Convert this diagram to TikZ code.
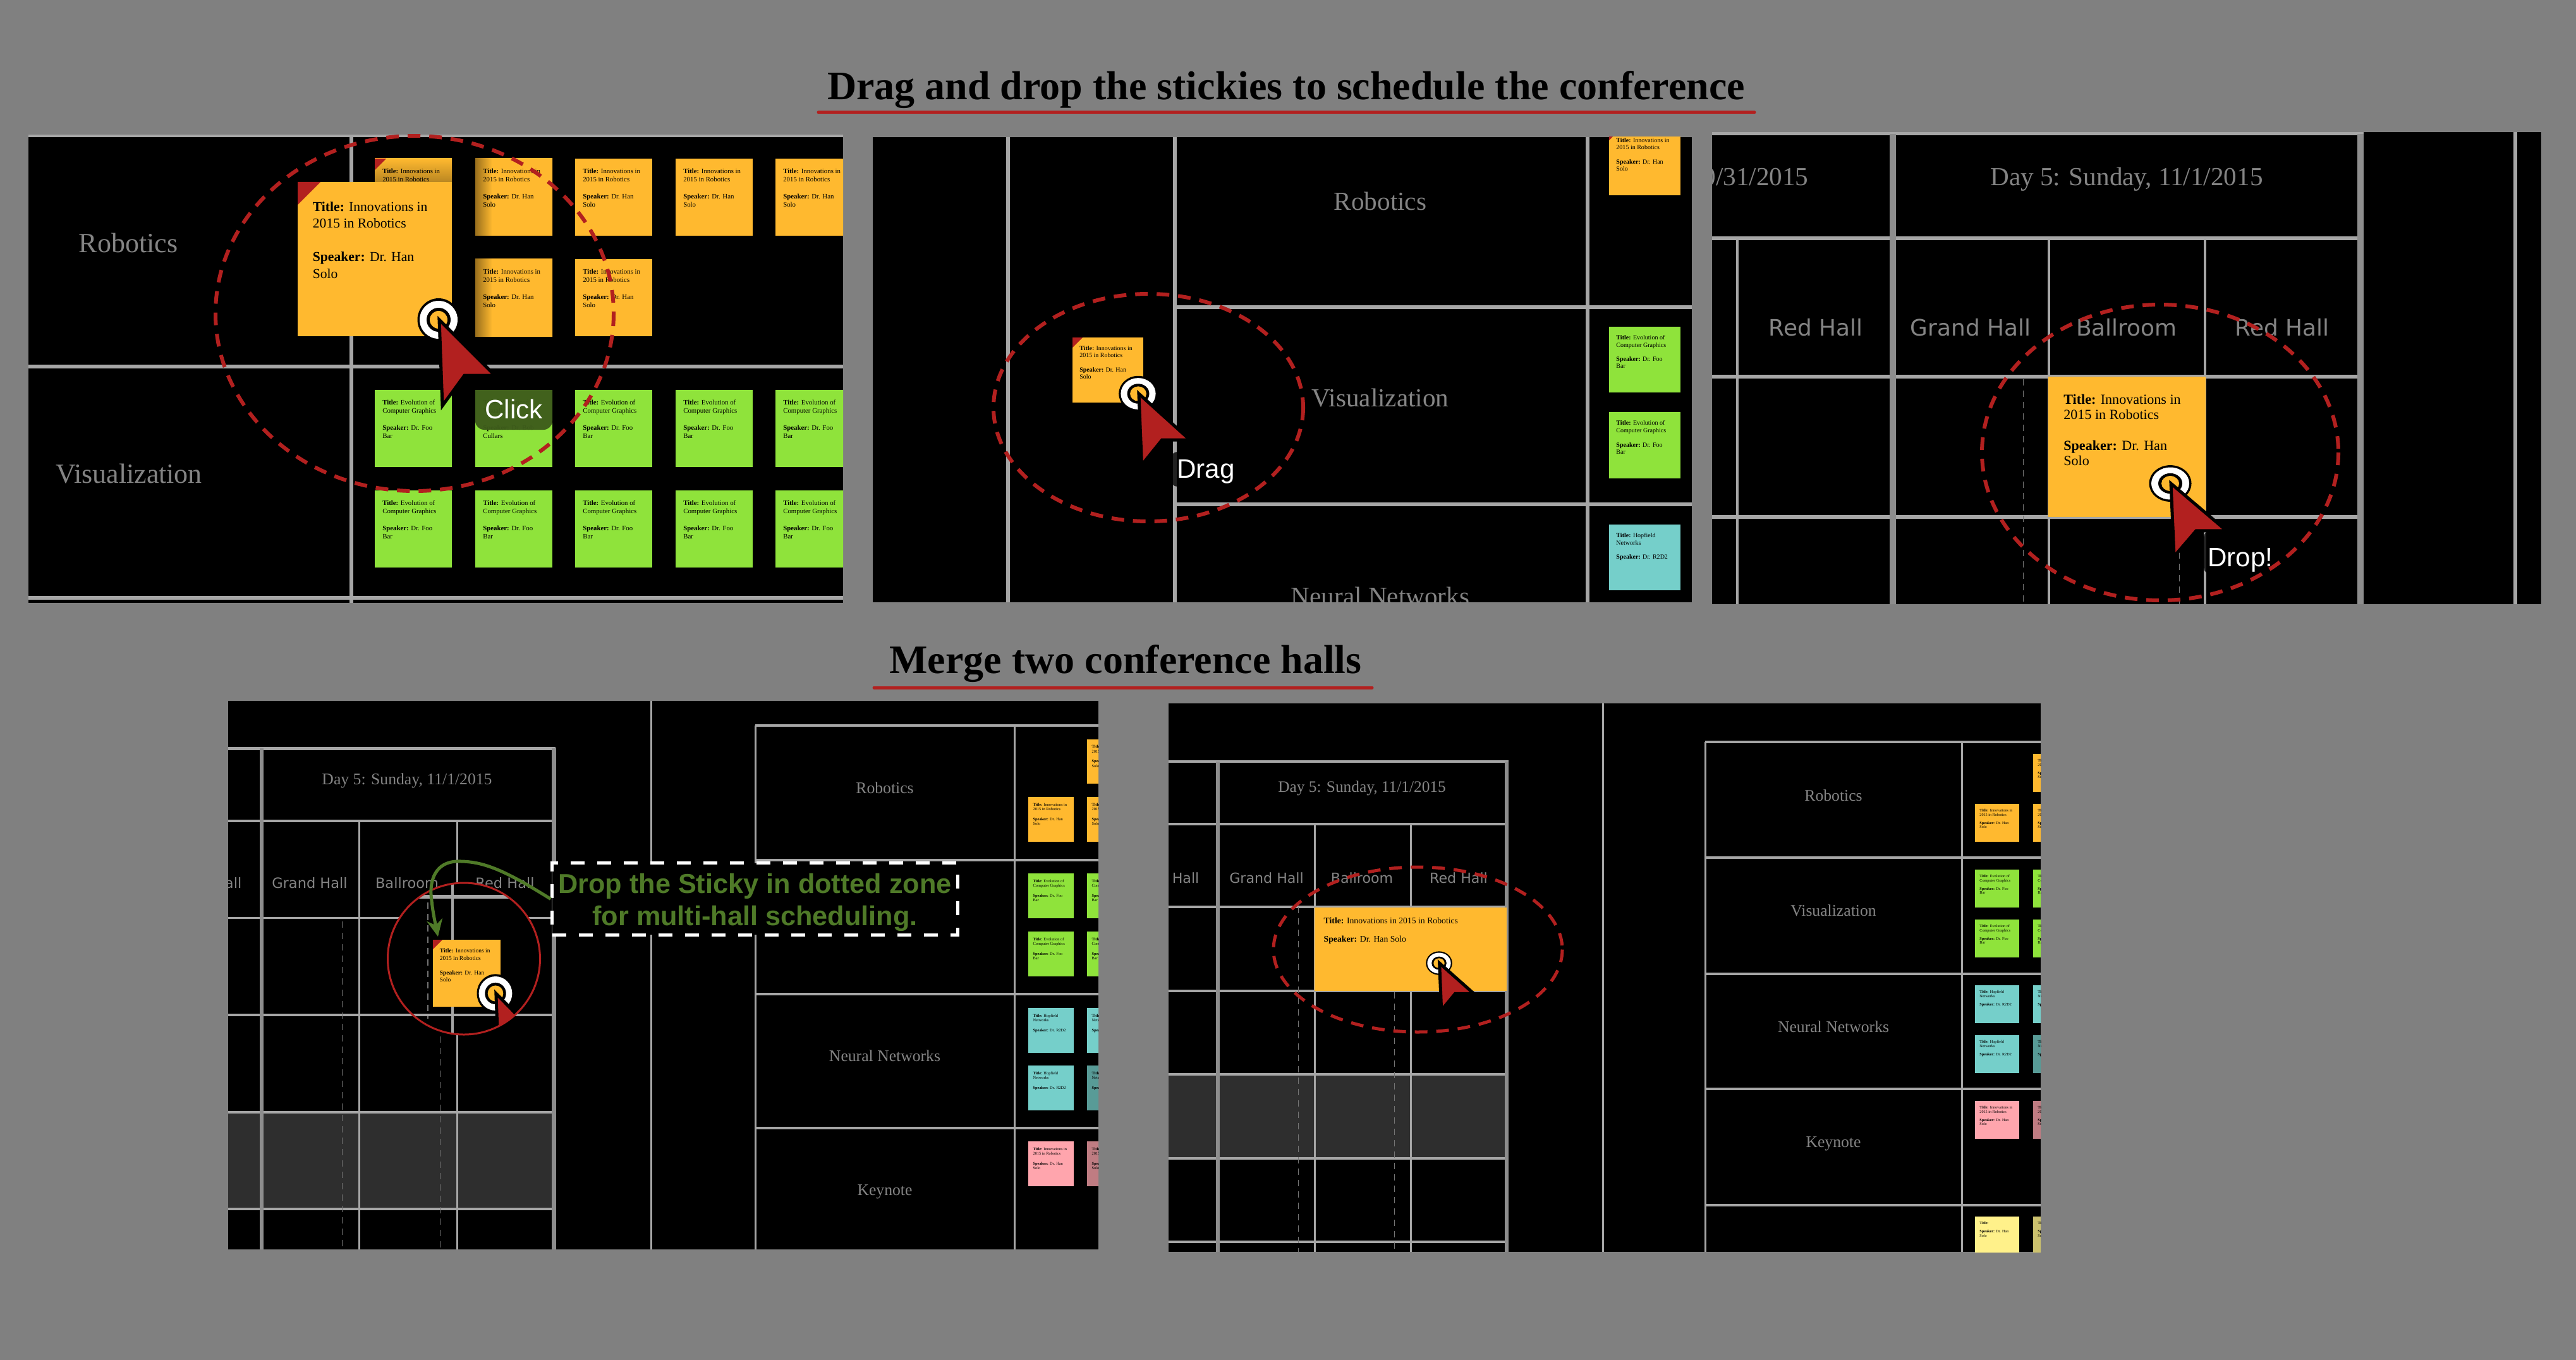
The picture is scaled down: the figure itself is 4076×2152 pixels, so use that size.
\documentclass[tikz,border=0pt]{standalone}
\usepackage{fontspec}
\setmainfont{Liberation Serif}
\newfontfamily\hallfont{DejaVu Sans}
\newfontfamily\tagfont{Liberation Sans}
\usetikzlibrary{arrows.meta}

\definecolor{pagegray}{HTML}{808080}
\definecolor{rulegray}{HTML}{A6A6A6}
\definecolor{labelgray}{HTML}{848484}
\definecolor{hintred}{HTML}{B2201F}
\definecolor{notegreen}{HTML}{4F7A28}
\definecolor{tagshade}{HTML}{3E5C1B}
\definecolor{bandgray}{HTML}{2E2E2E}
\definecolor{stickyorange}{HTML}{FFB92F}
\definecolor{stickygreen}{HTML}{8FE33B}
\definecolor{stickyteal}{HTML}{75CFCA}
\definecolor{stickypink}{HTML}{FFA5AD}
\definecolor{stickyyellow}{HTML}{FFF18A}
\pgfdeclarehorizontalshading{stickyfade}{100bp}{color(0bp)=(stickyorange!60!black); color(25bp)=(stickyorange!60!black); color(36bp)=(stickyorange); color(100bp)=(stickyorange)}

\newcommand{\innotext}{\textbf{Title:} Innovations in\\2015 in Robotics\\[\baselineskip]\textbf{Speaker:} Dr. Han\\Solo}
\newcommand{\evoltext}{\textbf{Title:} Evolution of\\Computer Graphics\\[\baselineskip]\textbf{Speaker:} Dr. Foo\\Bar}
\newcommand{\advtext}{\textbf{Title:} Advanced\\Visualization\\[\baselineskip]\textbf{Speaker:} Dr. Bob\\Cullars}
\newcommand{\hopftext}{\textbf{Title:} Hopfield\\Networks\\[\baselineskip]\textbf{Speaker:} Dr. R2D2}
\newcommand{\plaintext}{\textbf{Title:}\\[\baselineskip]\textbf{Speaker:} Dr. Han\\Solo}

% name, x, y, width, height, look, text
\newcommand{\sticky}[7]{%
  \pgfmathsetmacro{\stickyfs}{0.0252*#4}
  \pgfmathsetmacro{\stickyls}{0.0309*#5}
  \pgfmathsetmacro{\stickypadx}{0.095*#4}
  \pgfmathsetmacro{\stickypady}{0.125*#5}
  \node[stickybox, #6, minimum width=#4*0.01cm, minimum height=#5*0.01cm] (#1) at (#2,#3) {};
  \path (#1.north west) ++(\stickypadx,\stickypady) node[stickytext, font=\fontsize{\stickyfs}{\stickyls}\selectfont] (#1text) {#7};
}
% sticky name, size of the corner
\newcommand{\foldmark}[2]{\fill[hintred] (#1.north west) -- ++(#2,0) -- ++(-#2,#2) -- cycle;}
% x, y, scale x, scale y, colour of the centre
\newcommand{\pointer}[5]{%
  \begin{scope}[shift={(#1,#2)}, xscale=#3, yscale=#4]
    \fill[black] (0,0) ellipse [x radius=33.5, y radius=34];
    \fill[white] (0,0) ellipse [x radius=30, y radius=30];
    \fill[black] (0,0) ellipse [x radius=19, y radius=19];
    \fill[#5] (0,0) ellipse [x radius=14, y radius=14];
    \draw[draw=black, fill=hintred, line width=0.05cm] (1,0) -- (89,88) -- (41,88) -- (6,136) -- cycle;
  \end{scope}}

\begin{document}
\begin{tikzpicture}[
  x=0.01cm, y=-0.01cm,
  screen/.style={fill=black},
  rule/.style={draw=rulegray, line width=0.06cm},
  thinrule/.style={draw=rulegray, line width=0.03cm},
  thickrule/.style={draw=rulegray!85!black, line width=0.1cm},
  slot/.style={draw=rulegray!70!black, dash pattern=on 0.1cm off 0.08cm, line width=0.01cm},
  stickybox/.style={rectangle, anchor=north west, inner sep=0pt, outer sep=0pt},
  stickytext/.style={anchor=north west, align=left, inner sep=0pt, text=black},
  hintring/.style={draw=hintred, line width=0.06cm, dash pattern=on 0.2cm off 0.14cm},
  headline/.style={font=\bfseries\fontsize{18.2}{18.2}\selectfont, inner sep=0pt, text=black},
  headrule/.style={draw=hintred, line width=0.05cm, line cap=round},
  tracklabel/.style={text=labelgray, inner sep=0pt, font=\fontsize{#1}{#1}\selectfont},
  halllabel/.style={text=labelgray, inner sep=0pt, font=\hallfont\fontsize{#1}{#1}\selectfont},
  steptag/.style={text=white, inner sep=0pt, font=\tagfont\fontsize{12}{12}\selectfont},
  dropnote/.style={fill=black, draw=white, line width=0.05cm, dash pattern=on 0.22cm off 0.2cm,
    minimum width=6.41cm, minimum height=1.13cm, inner sep=0pt},
  notetext/.style={inner sep=0pt, align=center, text=notegreen,
    font=\tagfont\bfseries\fontsize{12.3}{14.5}\selectfont},
  notearrow/.style={draw=notegreen, line width=0.05cm, -{Stealth[length=0.27cm, width=0.25cm]}}
]
  \useasboundingbox (0,0) rectangle (4076,2152);
  \fill[pagegray] (0,0) rectangle (4076,2152);

  % Headings.
  \node[headline] (dragtitle) at (2035,142) {Drag and drop the stickies to schedule the conference};
  \coordinate (dragrulea) at (1295,178);
  \coordinate (dragruleb) at (2776,178);
  \draw[headrule] (dragrulea) -- (dragruleb);
  \node[headline] (mergetitle) at (1781,1050) {Merge two conference halls};
  \coordinate (mergerulea) at (1383,1088);
  \coordinate (mergeruleb) at (2171,1088);
  \draw[headrule] (mergerulea) -- (mergeruleb);

  % Click.
  \begin{scope}
    \clip (45,213) rectangle (1334,954);
    \fill[screen] (45,213) rectangle (1334,954);
    \draw[rule, line width=0.04cm] (45,215) -- (1334,215);
    \draw[rule] (556,213) -- (556,954);
    \draw[rule] (45,580) -- (1334,580);
    \draw[rule] (45,946) -- (1334,946);
    \node[tracklabel=12.5] (clickrob) at (203,384) {Robotics};
    \node[tracklabel=12.5] (clickvis) at (204,750) {Visualization};
    \sticky{cka}{593}{251}{122}{122}{top color=stickyorange, bottom color=stickyorange!55!black, middle color=stickyorange!55!black}{\innotext}
    \foldmark{cka}{18}
    \sticky{ckb}{752}{251}{122}{122}{shading=stickyfade}{\innotext}
    \sticky{ckc}{752}{410}{122}{122}{shading=stickyfade}{\innotext}
    \foreach \x/\i in {910/d,1069/e,1227/f}{
      \sticky{ck\i}{\x}{251}{122}{122}{fill=stickyorange}{\innotext}
    }
    \sticky{ckg}{910}{410}{122}{122}{fill=stickyorange}{\innotext}
    \foreach \x/\i in {593/a,910/c,1069/d,1227/e}{
      \sticky{ckv\i}{\x}{617}{122}{122}{fill=stickygreen}{\evoltext}
    }
    \sticky{ckvb}{752}{617}{122}{122}{fill=stickygreen}{\advtext}
    \foreach \x/\i in {593/a,752/b,910/c,1069/d,1227/e}{
      \sticky{ckw\i}{\x}{776}{122}{122}{fill=stickygreen}{\evoltext}
    }
    \fill[tagshade, opacity=0.96] (752,617) -- (874,617) [rounded corners=0.14cm] -- (874,680) -- (752,680) [sharp corners] -- cycle;
    \node[steptag] (clicktag) at (813,647) {Click};
    \sticky{ckbig}{471}{288}{244}{244}{fill=stickyorange}{\innotext}
    \foldmark{ckbig}{36}
    \draw[hintring] (656,496) ellipse [x radius=315, y radius=281];
    \pointer{694}{506}{1}{1}{stickyorange}
  \end{scope}

  % Drag.
  \begin{scope}
    \clip (1381,217) rectangle (2677,953);
    \fill[screen] (1381,217) rectangle (2677,953);
    \foreach \x in {1595,1858.5,2512}{
      \draw[rule] (\x,217) -- (\x,953);
    }
    \draw[rule] (1858,486) -- (2677,486);
    \draw[rule] (1858,798) -- (2677,798);
    \node[tracklabel=11.7] (dragrob) at (2184,318) {Robotics};
    \node[tracklabel=11.7] (dragvis) at (2184,630) {Visualization};
    \node[tracklabel=11.7] (dragneu) at (2184,943) {Neural Networks};
    \sticky{dga}{2546}{205}{113}{104}{fill=stickyorange}{\innotext}
    \foldmark{dga}{17}
    \sticky{dgb}{2546}{517}{113}{104}{fill=stickygreen}{\evoltext}
    \sticky{dgc}{2546}{652}{113}{105}{fill=stickygreen}{\evoltext}
    \sticky{dgd}{2546}{830}{113}{104}{fill=stickyteal}{\hopftext}
    \fill[black, opacity=0.8, rounded corners=0.1cm] (1853,715) rectangle (1975,770);
    \node[steptag] (dragtag) at (1908,746) {Drag};
    \sticky{dgmove}{1697}{534}{112}{103}{fill=stickyorange}{\innotext}
    \foldmark{dgmove}{16}
    \draw[hintring] (1817,645) ellipse [x radius=245, y radius=180];
    \pointer{1801}{623}{0.92}{0.83}{stickyorange}
  \end{scope}

  % Drop.
  \begin{scope}
    \clip (2709,209) rectangle (4021,956);
    \fill[screen] (2709,209) rectangle (4021,956);
    \draw[rule, line width=0.05cm] (2709,212) -- (3740,212);
    \foreach \y in {377,596,818}{
      \draw[rule] (2709,\y) -- (3740,\y);
    }
    \foreach \x in {2749,3242,3489}{
      \draw[rule, line width=0.045cm] (\x,377) -- (\x,956);
    }
    \draw[thickrule] (2995,212) -- (2995,956);
    \draw[thickrule] (3735,212) -- (3735,956);
    \draw[rule] (3980,209) -- (3980,956);
    \draw[slot] (3201,600) -- (3201,956);
    \draw[slot] (3448,820) -- (3448,956);
    \node[tracklabel=11.7, anchor=east] (dropsat) at (2862,284) {Day 4: Saturday, 10/31/2015};
    \node[tracklabel=11.7] (dropsun) at (3365,284) {Day 5: Sunday, 11/1/2015};
    \node[halllabel=10.2] (dropreda) at (2873,518) {Red Hall};
    \node[halllabel=10.2] (dropgrand) at (3118,518) {Grand Hall};
    \node[halllabel=10.2] (dropball) at (3365,518) {Ballroom};
    \node[halllabel=10.2] (dropredb) at (3611,518) {Red Hall};
    \sticky{dpa}{3241}{596}{249}{222}{fill=stickyorange}{\innotext}
    \fill[black, opacity=0.8, rounded corners=0.1cm] (3487,840) rectangle (3600,908);
    \node[steptag] (droptag) at (3545,886) {Drop!};
    \draw[hintring] (3418,716) ellipse [x radius=282, y radius=234];
    \pointer{3434}{765}{1}{0.85}{stickyorange}
  \end{scope}

  % Merge, before.
  \begin{scope}
    \clip (361,1109) rectangle (1738,1977);
    \fill[screen] (361,1109) rectangle (1738,1977);
    \fill[bandgray] (361,1760) rectangle (876,1913);
    \draw[rule, line width=0.05cm] (361,1184) -- (879,1184);
    \foreach \y in {1299,1452.5,1606,1760,1913}{
      \draw[rule, line width=0.035cm] (361,\y) -- (876,\y);
    }
    \foreach \x in {568,723}{
      \draw[thinrule] (\x,1299) -- (\x,1977);
    }
    \draw[thickrule, line width=0.065cm] (414,1184) -- (414,1977);
    \draw[thickrule, line width=0.07cm] (876.5,1184) -- (876.5,1977);
    \draw[slot] (541,1458) -- (541,1977);
    \draw[slot] (696,1640) -- (696,1977);
    \draw[thinrule] (1030,1109) -- (1030,1977);
    \foreach \x in {1195,1605.5}{
      \draw[thinrule] (\x,1148) -- (\x,1977);
    }
    \foreach \y in {1148,1361,1573,1785}{
      \draw[rule, line width=0.04cm] (1195,\y) -- (1738,\y);
    }
    \node[tracklabel=7.3] (mbsun) at (644,1235) {Day 5: Sunday, 11/1/2015};
    \node[halllabel=6.4, anchor=east] (mbreda) at (383,1397) {Red Hall};
    \node[halllabel=6.4] (mbgrand) at (490,1397) {Grand Hall};
    \node[halllabel=6.4] (mbball) at (644,1397) {Ballroom};
    \node[halllabel=6.4] (mbredb) at (799,1397) {Red Hall};
    \node[tracklabel=7.3] (mbrob) at (1400,1247) {Robotics};
    \node[tracklabel=7.3] (mbneu) at (1400,1671) {Neural Networks};
    \node[tracklabel=7.3] (mbkey) at (1400,1886) {Keynote};
    \sticky{mbtop}{1720}{1170}{72}{70}{fill=stickyorange}{\innotext}
    \foreach \y/\t/\c/\d/\i in {1261/\innotext/stickyorange/stickyorange/a, 1382/\evoltext/stickygreen/stickygreen/b, 1474/\evoltext/stickygreen/stickygreen/c, 1595/\hopftext/stickyteal/stickyteal/d, 1686/\hopftext/stickyteal/stickyteal!75!black/e, 1806/\innotext/stickypink/stickypink!75!black/f}{
      \sticky{mba\i}{1627}{\y}{72}{71}{fill=\c}{\t}
      \sticky{mbb\i}{1720}{\y}{72}{71}{fill=\d}{\t}
    }
    % Lens.
    \begin{scope}
      \clip (734,1517) ellipse [x radius=120.5, y radius=120];
      \fill[screen] (734,1517) ellipse [x radius=120.5, y radius=120];
      \draw[rule] (600,1419) -- (870,1419);
      \draw[rule, line width=0.035cm] (600,1606) -- (870,1606);
      \draw[rule, line width=0.04cm] (716,1390) -- (716,1640);
      \draw[slot, line width=0.025cm] (677,1428) -- (677,1612);
      \sticky{mbmove}{685}{1487}{107}{106}{fill=stickyorange}{\innotext}
      \foldmark{mbmove}{15}
      \pointer{784}{1572}{0.88}{0.9}{stickyorange}
    \end{scope}
    \draw[draw=hintred, line width=0.03cm] (734,1517) ellipse [x radius=120.5, y radius=120];
    \node[dropnote] (dropzone) at (1194.5,1422.5) {};
    \path (dropzone.center) ++(0,5) node[notetext] (dropzonetext) {Drop the Sticky in dotted zone\\for multi-hall scheduling.};
    \coordinate (zonetip) at (693,1482);
    \draw[notearrow] (dropzone.west) .. controls (800,1378) and (765,1362) .. (723,1363) .. controls (690,1364) and (678,1392) .. (683,1425) .. controls (685,1445) and (689,1462) .. (zonetip);
  \end{scope}

  % Merge, after.
  \begin{scope}
    \clip (1849,1113) rectangle (3229,1981);
    \fill[screen] (1849,1113) rectangle (3229,1981);
    \fill[bandgray] (1849,1700) rectangle (2384,1833);
    \draw[rule, line width=0.04cm] (1849,1205) -- (2387,1205);
    \foreach \y in {1304,1435,1568,1700,1833,1965}{
      \draw[rule, line width=0.035cm] (1849,\y) -- (2384,\y);
    }
    \foreach \x in {2080,2232}{
      \draw[thinrule] (\x,1304) -- (\x,1981);
    }
    \draw[thickrule, line width=0.065cm] (1927,1205) -- (1927,1981);
    \draw[thickrule, line width=0.06cm] (2384,1205) -- (2384,1981);
    \draw[slot] (2054,1435) -- (2054,1981);
    \draw[slot] (2206,1570) -- (2206,1981);
    \draw[thinrule] (2536,1113) -- (2536,1981);
    \foreach \x in {2698,3104}{
      \draw[thinrule] (\x,1174) -- (\x,1981);
    }
    \foreach \y in {1174,1357,1541,1723,1907}{
      \draw[rule, line width=0.04cm] (2698,\y) -- (3229,\y);
    }
    \node[tracklabel=7.2] (masun) at (2155,1247) {Day 5: Sunday, 11/1/2015};
    \node[halllabel=6.3, anchor=east] (mareda) at (1898,1389) {Red Hall};
    \node[halllabel=6.3] (magrand) at (2004,1389) {Grand Hall};
    \node[halllabel=6.3] (maball) at (2155,1389) {Ballroom};
    \node[halllabel=6.3] (maredb) at (2308,1389) {Red Hall};
    \node[tracklabel=7.3] (marob) at (2901,1259) {Robotics};
    \node[tracklabel=7.3] (mavis) at (2901,1441) {Visualization};
    \node[tracklabel=7.3] (maneu) at (2901,1625) {Neural Networks};
    \node[tracklabel=7.3] (makey) at (2901,1810) {Keynote};
    \sticky{matop}{3217}{1193}{70}{60}{fill=stickyorange}{\innotext}
    \foreach \y/\t/\c/\d/\i in {1272/\innotext/stickyorange/stickyorange/a, 1376/\evoltext/stickygreen/stickygreen/b, 1455/\evoltext/stickygreen/stickygreen/c, 1559/\hopftext/stickyteal/stickyteal/d, 1638/\hopftext/stickyteal/stickyteal!75!black/e, 1742/\innotext/stickypink/stickypink!75!black/f, 1925/\plaintext/stickyyellow/stickyyellow!80!black/g}{
      \sticky{maa\i}{3125}{\y}{70}{60}{fill=\c}{\t}
      \sticky{mab\i}{3217}{\y}{70}{60}{fill=\d}{\t}
    }
    \node[stickybox, fill=stickyorange, minimum width=3.04cm, minimum height=1.32cm] (mamerged) at (2080,1436) {};
    \path (mamerged.north west) ++(14,15) node[stickytext, font=\fontsize{3.9}{4.1}\selectfont] (mamergedtext) {\textbf{Title:} Innovations in 2015 in Robotics\\[\baselineskip]\textbf{Speaker:} Dr. Han Solo};
    \draw[hintring, line width=0.05cm] (2243.5,1502.5) ellipse [x radius=228.5, y radius=130.5];
    \pointer{2277}{1524}{0.62}{0.55}{stickyorange}
  \end{scope}
\end{tikzpicture}
\end{document}
